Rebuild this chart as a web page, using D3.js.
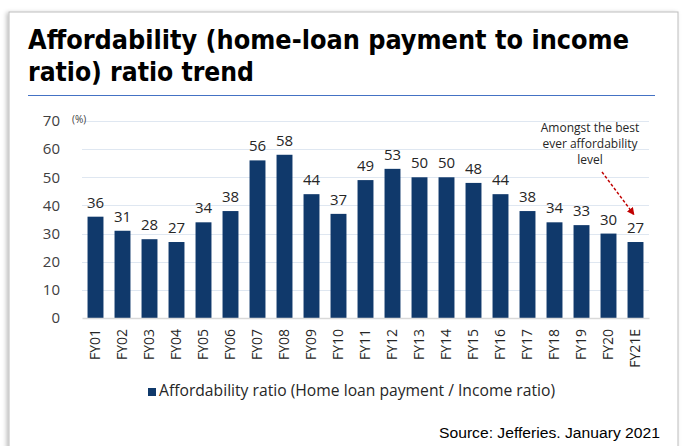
<!DOCTYPE html>
<html>
<head>
<meta charset="utf-8">
<script src="https://cdn.jsdelivr.net/npm/d3@7"></script>
<style>
  body { margin: 0; background: #fff; }
  svg { display: block; }
</style>
</head>
<body>
<div id="chart"></div>
<script>
// data
var categories = ["FY01","FY02","FY03","FY04","FY05","FY06","FY07","FY08","FY09","FY10",
  "FY11","FY12","FY13","FY14","FY15","FY16","FY17","FY18","FY19","FY20","FY21E"];
var ratioValues = [36,31,28,27,34,38,56,58,44,37,49,53,50,50,48,44,38,34,33,30,27];
var yTicks = [0,10,20,30,40,50,60,70];
var seriesName = "Affordability ratio (Home loan payment / Income ratio)";
var noteLines = ["Amongst the best", "ever affordability", "level"];

var width = 683, height = 446;
var barColor = "#10396b";

var svg = d3.select("#chart").append("svg")
  .attr("width", width)
  .attr("height", height);

// shadow for the frame
var defs = svg.append("defs");
var f = defs.append("filter").attr("id", "shadow")
  .attr("x", "-5%").attr("y", "-5%").attr("width", "110%").attr("height", "110%");
f.append("feDropShadow").attr("dx", -2).attr("dy", 1).attr("stdDeviation", 2)
  .attr("flood-color", "#000").attr("flood-opacity", 0.25);

defs.append("marker")
  .attr("id", "arrow")
  .attr("viewBox", "0 0 10 10")
  .attr("refX", 8).attr("refY", 5)
  .attr("markerWidth", 5).attr("markerHeight", 5)
  .attr("orient", "auto")
  .append("path")
  .attr("d", "M0,0 L10,5 L0,10 z")
  .attr("fill", "#c00000");

svg.append("rect")
  .attr("x", 9).attr("y", 12)
  .attr("width", 669).attr("height", 460)
  .attr("fill", "#fff")
  .attr("stroke", "#bdbdbd")
  .attr("stroke-width", 1)
  .attr("filter", "url(#shadow)");

// title
var title = svg.append("g")
  .style("font-family", "'DejaVu Sans Condensed', 'DejaVu Sans', sans-serif")
  .style("font-weight", "bold")
  .style("font-size", "26px")
  .attr("fill", "#000");
title.append("text").attr("x", 28).attr("y", 49)
  .attr("textLength", 601).attr("lengthAdjust", "spacingAndGlyphs")
  .text("Affordability (home-loan payment to income");
title.append("text").attr("x", 28).attr("y", 81)
  .attr("textLength", 226).attr("lengthAdjust", "spacingAndGlyphs")
  .text("ratio) ratio trend");

svg.append("line")
  .attr("x1", 28).attr("x2", 655)
  .attr("y1", 95.5).attr("y2", 95.5)
  .attr("stroke", "#4472c4").attr("stroke-width", 1.2);

// scales
var x = d3.scaleBand()
  .domain(categories)
  .range([82, 649])
  .paddingInner(0.41)
  .paddingOuter(0.205);

var y = d3.scaleLinear()
  .domain([0, 70])
  .range([318, 121]);

var font = "'Open Sans', sans-serif";

// gridlines
svg.append("g")
  .selectAll("line")
  .data(yTicks.filter(function(d) { return d > 0; }))
  .enter().append("line")
  .attr("x1", 82).attr("x2", 649)
  .attr("y1", function(d) { return Math.round(y(d)) + 0.5; })
  .attr("y2", function(d) { return Math.round(y(d)) + 0.5; })
  .attr("stroke", "#dfe7f1").attr("stroke-width", 1);

// y axis labels
var yAxis = svg.append("g")
  .attr("transform", "translate(60,0)")
  .call(d3.axisLeft(y).tickValues(yTicks).tickSize(0).tickPadding(0));
yAxis.select(".domain").remove();
yAxis.selectAll("text")
  .style("font-family", font)
  .style("font-size", "15px")
  .attr("fill", "#404040");

svg.append("text")
  .attr("x", 72).attr("y", 123)
  .style("font-family", font)
  .style("font-size", "10px")
  .attr("fill", "#404040")
  .text("(%)");

// bars
svg.append("g")
  .selectAll("rect")
  .data(ratioValues)
  .enter().append("rect")
  .attr("x", function(d, i) { return x(categories[i]); })
  .attr("y", function(d) { return y(d); })
  .attr("width", x.bandwidth())
  .attr("height", function(d) { return y(0) - y(d); })
  .attr("fill", barColor);

// value labels
svg.append("g")
  .selectAll("text")
  .data(ratioValues)
  .enter().append("text")
  .attr("x", function(d, i) { return x(categories[i]) + x.bandwidth() / 2; })
  .attr("y", function(d) { return y(d) - 9; })
  .attr("text-anchor", "middle")
  .style("font-family", font)
  .style("font-size", "15px")
  .attr("fill", "#262626")
  .text(function(d) { return d; });

// x axis
var xAxis = svg.append("g")
  .attr("transform", "translate(0," + y(0) + ")")
  .call(d3.axisBottom(x).tickSize(0).tickPadding(0));
xAxis.select(".domain")
  .attr("stroke", "#d9d9d9")
  .attr("stroke-width", 1.5);
xAxis.selectAll("text")
  .attr("transform", "rotate(-90)")
  .attr("x", -11)
  .attr("y", 0)
  .attr("dy", "0.35em")
  .attr("text-anchor", "end")
  .style("font-family", font)
  .style("font-size", "14px")
  .attr("fill", "#262626");

// note + arrow
var last = categories.length - 1;
svg.append("text")
  .attr("x", 590).attr("y", 132)
  .attr("text-anchor", "middle")
  .style("font-family", font)
  .style("font-size", "12px")
  .attr("fill", "#262626")
  .selectAll("tspan")
  .data(noteLines)
  .enter().append("tspan")
  .attr("x", 590)
  .attr("dy", function(d, i) { return i === 0 ? 0 : 16; })
  .text(function(d) { return d; });

svg.append("line")
  .attr("x1", 602).attr("y1", 172)
  .attr("x2", x(categories[last]) + x.bandwidth() / 2 - 2)
  .attr("y2", y(ratioValues[last]) - 28)
  .attr("stroke", "#c00000")
  .attr("stroke-width", 1.5)
  .attr("stroke-dasharray", "3,2")
  .attr("marker-end", "url(#arrow)");

// legend
svg.append("rect")
  .attr("x", 148).attr("y", 388)
  .attr("width", 8).attr("height", 8)
  .attr("fill", barColor);
svg.append("text")
  .attr("x", 159).attr("y", 396)
  .attr("textLength", 396).attr("lengthAdjust", "spacingAndGlyphs")
  .style("font-family", font)
  .style("font-size", "15.5px")
  .attr("fill", "#262626")
  .text(seriesName);

// source
svg.append("text")
  .attr("x", 439).attr("y", 438)
  .attr("textLength", 221).attr("lengthAdjust", "spacingAndGlyphs")
  .style("font-family", "'Liberation Sans', Arial, sans-serif")
  .style("font-size", "15.5px")
  .attr("fill", "#000")
  .text("Source: Jefferies. January 2021");
</script>
</body>
</html>
